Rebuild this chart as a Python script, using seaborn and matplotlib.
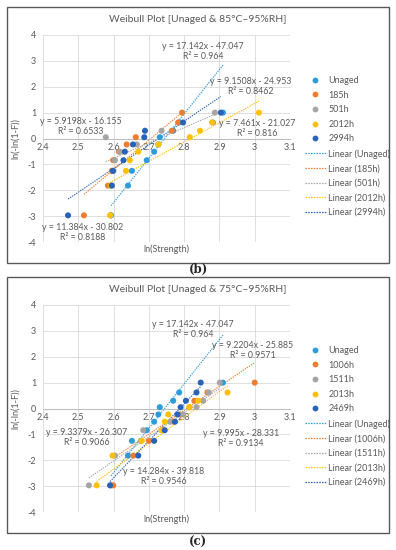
import numpy as np
import pandas as pd
import matplotlib
matplotlib.use("Agg")
import matplotlib.pyplot as plt
import seaborn as sns
from matplotlib.lines import Line2D
from matplotlib.patches import Rectangle

# Weibull ranks (y = ln(-ln(1-F))), shared by every series
rank_y = [-2.97, -1.82, -1.25, -0.84, -0.51, -0.23, 0.05, 0.30, 0.62, 1.00]

# ---- panel (b): 85C / 95%RH ----
b_title = "Weibull Plot [Unaged & 85°C–95%RH]"
b_series = ["Unaged", "185h", "501h", "2012h", "2994h"]
b_unaged = [2.593, 2.641, 2.652, 2.694, 2.715, 2.727, 2.731, 2.769, 2.786, 2.91]
b_185h = [2.516, 2.584, 2.595, 2.599, 2.615, 2.637, 2.663, 2.765, 2.783, 2.794]
b_501h = [2.592, 2.595, 2.600, 2.604, 2.618, 2.666, 2.578, 2.736, 2.882, 2.887]
b_2012h = [2.590, 2.592, 2.635, 2.646, 2.670, 2.727, 2.816, 2.845, 2.879, 3.012]
b_2994h = [2.471, 2.595, 2.598, 2.628, 2.632, 2.655, 2.687, 2.689, 2.797, 2.904]
b_slope = [17.142, 11.384, 5.9198, 7.461, 9.1508]
b_icpt = [-47.047, -30.802, -16.155, -21.027, -24.953]
b_r2 = [0.964, 0.8188, 0.6533, 0.816, 0.8462]
b_eq_x = [2.853, 2.513, 2.508, 3.007, 2.989]
b_eq_y = [3.36, -3.62, 0.45, 0.37, 2.02]

# ---- panel (c): 75C / 95%RH ----
c_title = "Weibull Plot [Unaged & 75°C–95%RH]"
c_series = ["Unaged", "1006h", "1511h", "2013h", "2469h"]
c_unaged = b_unaged
c_1006h = [2.599, 2.656, 2.700, 2.739, 2.770, 2.788, 2.815, 2.829, 2.866, 3.000]
c_1511h = [2.530, 2.604, 2.677, 2.684, 2.760, 2.797, 2.835, 2.854, 2.870, 2.901]
c_2013h = [2.552, 2.597, 2.680, 2.736, 2.745, 2.755, 2.815, 2.840, 2.923, np.nan]
c_2469h = [2.590, 2.670, 2.715, 2.745, 2.774, 2.781, 2.790, 2.805, 2.835, 2.847]
c_slope = [17.142, 9.2204, 9.3379, 9.995, 14.284]
c_icpt = [-47.047, -25.885, -26.307, -28.331, -39.818]
c_r2 = [0.964, 0.9571, 0.9066, 0.9134, 0.9546]
c_eq_x = [2.825, 2.995, 2.524, 2.960, 2.743]
c_eq_y = [3.05, 2.23, -1.12, -1.15, -2.62]

colors = ["#2E9BDA", "#ED7D31", "#A5A5A5", "#FFC000", "#2863B8"]
txt = "#595959"

sns.set_style("white")
plt.rcParams["font.family"] = ["Lato", "DejaVu Sans"]
plt.rcParams["axes.unicode_minus"] = False

W, H = 396, 550
fig = plt.figure(figsize=(W / 100, H / 100), dpi=100)


def draw_panel(top, title, names, xs, slopes, icpts, r2s, eq_x, eq_y, caption, cap_y):
    # frame around the chart
    fig.patches.append(Rectangle((7 / W, 1 - (top + 256) / H), 382 / W, 256 / H,
                                 transform=fig.transFigure, fill=False,
                                 edgecolor="#595959", lw=1.0))
    fig.text(198 / W, 1 - (top + 13) / H, title, ha="center", va="center",
             fontsize=7.5, color=txt)
    fig.text(198 / W, 1 - cap_y / H, caption, ha="center", va="center",
             fontsize=8.5, fontweight="bold", family="DejaVu Serif")

    ax = fig.add_axes([43 / W, 1 - (top + 235) / H, 247 / W, 207 / H])
    rows = []
    for name, vals in zip(names, xs):
        for x, y in zip(vals, rank_y):
            rows.append({"series": name, "x": x, "y": y})
    df = pd.DataFrame(rows).dropna()
    sns.scatterplot(data=df, x="x", y="y", hue="series", hue_order=names,
                    palette=colors, s=19, edgecolor="none", legend=False, ax=ax,
                    zorder=3)

    for i, name in enumerate(names):
        sx = df.loc[df.series == name, "x"]
        lx = np.array([sx.min(), sx.max()])
        ax.plot(lx, slopes[i] * lx + icpts[i], color=colors[i], lw=0.8,
                ls=(0, (1.2, 1.0)), zorder=2)
        label = f"y = {slopes[i]}x - {abs(icpts[i])}\nR² = {r2s[i]}"
        ax.text(eq_x[i], eq_y[i], label, ha="center", va="center",
                multialignment="center", fontsize=6.3, color=txt,
                linespacing=1.15, zorder=4)

    ax.set_xlim(2.4, 3.1)
    ax.set_ylim(-4, 4)
    ax.set_xticks(np.arange(2.4, 3.11, 0.1))
    ax.set_xticklabels(["2.4", "2.5", "2.6", "2.7", "2.8", "2.9", "3", "3.1"])
    ax.set_yticks(range(-4, 5))
    ax.grid(True, color="#D9D9D9", lw=0.6)
    for s in ["top", "right", "left"]:
        ax.spines[s].set_visible(False)
    ax.spines["bottom"].set_position(("data", 0))
    ax.spines["bottom"].set_color("#BFBFBF")
    ax.spines["bottom"].set_linewidth(0.8)
    ax.tick_params(length=0, labelsize=6.5, labelcolor=txt)
    ax.tick_params(axis="x", pad=3)
    ax.tick_params(axis="y", pad=5)
    ax.set_xlabel("ln(Strength)", fontsize=6.5, color=txt)
    ax.set_ylabel("ln(-ln(1-F))", fontsize=6.5, color=txt)
    ax.xaxis.set_label_coords(0.5, -0.012)
    ax.yaxis.set_label_coords(-0.093, 0.5)

    handles = [Line2D([], [], ls="none", marker="o", ms=4.2, color=c, mec="none")
               for c in colors]
    handles += [Line2D([], [], ls=(0, (1.2, 1.0)), lw=0.9, color=c) for c in colors]
    labels = names + [f"Linear ({n})" for n in names]
    fig.legend(handles, labels, loc="upper left",
               bbox_to_anchor=(305 / W, 1 - (top + 69) / H), frameon=False,
               fontsize=6.5, labelcolor=txt, handlelength=2.3, handletextpad=0.3,
               labelspacing=0.62, borderpad=0, borderaxespad=0)
    return ax


draw_panel(7, b_title, b_series, [b_unaged, b_185h, b_501h, b_2012h, b_2994h],
           b_slope, b_icpt, b_r2, b_eq_x, b_eq_y, "(b)", 269)
draw_panel(277, c_title, c_series, [c_unaged, c_1006h, c_1511h, c_2013h, c_2469h],
           c_slope, c_icpt, c_r2, c_eq_x, c_eq_y, "(c)", 542)

fig.savefig("out.png", dpi=100)
